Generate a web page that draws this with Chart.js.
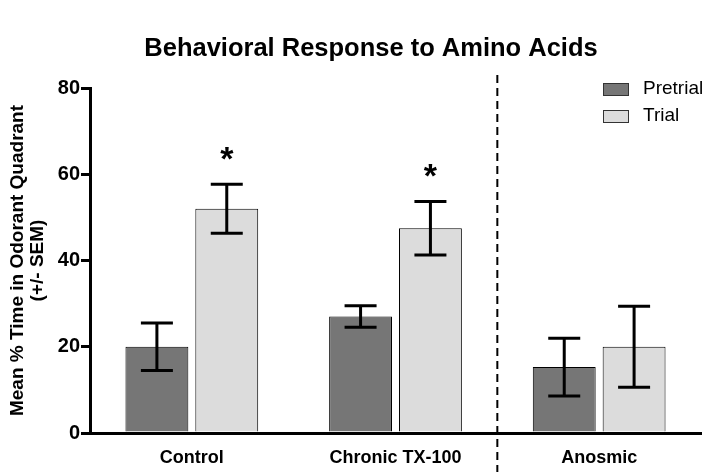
<!DOCTYPE html>
<html>
<head>
<meta charset="utf-8">
<script src="https://cdn.jsdelivr.net/npm/chart.js@4.4.1/dist/chart.umd.min.js"></script>
<style>
  html, body { margin: 0; padding: 0; background: #fff; }
  #wrap { width: 711px; height: 472px; position: relative; }
</style>
</head>
<body>
<div id="wrap"><canvas id="myChart"></canvas></div>
<script>
//------donnees
const categories = ['Control', 'Chronic TX-100', 'Anosmic'];
const pretrialMean = [20, 27, 15.3];
const pretrialSem = [5.5, 2.5, 6.7];
const trialMean = [52, 47.5, 20];
const trialSem = [5.7, 6.2, 9.4];
const trialMarks = ['*', '*', ''];
const yTicks = [0, 20, 40, 60, 80];

const FONT = '"Liberation Sans", Arial, sans-serif';
const ctx = document.getElementById('myChart');

//barres d'erreur + asterisques + ligne pointillee + legende + titre
const extras = {
  id: 'extras',
  afterDatasetsDraw(chart) {
    const c = chart.ctx;
    const y = chart.scales.y;
    const x = chart.scales.x;
    const sems = [pretrialSem, trialSem];
    c.save();
    c.strokeStyle = '#000';
    c.lineWidth = 3;
    chart.data.datasets.forEach((ds, i) => {
      chart.getDatasetMeta(i).data.forEach((bar, j) => {
        const v = ds.data[j];
        const top = y.getPixelForValue(v + sems[i][j]);
        const bot = y.getPixelForValue(v - sems[i][j]);
        c.beginPath();
        c.moveTo(bar.x, top); c.lineTo(bar.x, bot);
        c.moveTo(bar.x - 16, top); c.lineTo(bar.x + 16, top);
        c.moveTo(bar.x - 16, bot); c.lineTo(bar.x + 16, bot);
        c.stroke();
        if (i === 1 && trialMarks[j]) {
          c.fillStyle = '#000';
          c.font = 'bold 34px ' + FONT;
          c.textAlign = 'center';
          c.textBaseline = 'middle';
          c.fillText(trialMarks[j], bar.x, top - 24);
        }
      });
    });

    //separation pointillee avant Anosmic
    const xs = (x.getPixelForValue(1) + x.getPixelForValue(2)) / 2;
    c.lineWidth = 2;
    c.setLineDash([8, 5]);
    c.beginPath();
    c.moveTo(xs, chart.chartArea.top - 13);
    c.lineTo(xs, chart.height);
    c.stroke();
    c.setLineDash([]);

    //legende
    const items = [['Pretrial', '#767676'], ['Trial', '#dcdcdc']];
    c.lineWidth = 1;
    c.strokeStyle = '#333';
    c.font = '19px ' + FONT;
    c.textAlign = 'left';
    c.textBaseline = 'middle';
    items.forEach((it, k) => {
      const ly = chart.chartArea.top + 1 + k * 27;
      c.fillStyle = it[1];
      c.fillRect(603, ly - 6, 26, 13);
      c.strokeRect(603.5, ly - 5.5, 25, 12);
      c.fillStyle = '#000';
      c.fillText(it[0], 643, ly);
    });

    //titre
    c.font = 'bold 25.5px ' + FONT;
    c.textAlign = 'center';
    c.fillText('Behavioral Response to Amino Acids', 371, 49);
    c.restore();
  }
};

new Chart(ctx, {
  type: 'bar',
  data: {
    labels: categories,
    datasets: [
      {
        label: 'Pretrial',
        data: pretrialMean,
        backgroundColor: '#767676',
        borderColor: '#000',
        borderWidth: 1,
        categoryPercentage: 0.686,
        barPercentage: 0.9
      },
      {
        label: 'Trial',
        data: trialMean,
        backgroundColor: '#dcdcdc',
        borderColor: '#000',
        borderWidth: 1,
        categoryPercentage: 0.686,
        barPercentage: 0.9
      }
    ]
  },
  options: {
    responsive: true,
    maintainAspectRatio: false,
    animation: false,
    layout: { padding: { top: 88, right: 10, left: 0, bottom: 0 } },
    plugins: {
      legend: { display: false },
      title: { display: false },
      tooltip: { enabled: false }
    },
    scales: {
      x: {
        grid: { display: false },
        border: { display: true, color: '#000', width: 3 },
        ticks: { color: '#000', padding: 6, font: { family: FONT, size: 18, weight: 'bold' } },
        afterFit: (s) => { s.height = 39; }
      },
      y: {
        min: 0,
        max: 80,
        afterBuildTicks: (s) => { s.ticks = yTicks.map(v => ({ value: v })); },
        grid: { drawOnChartArea: false, drawTicks: true, tickLength: 9, lineWidth: 3, color: '#000' },
        border: { display: true, color: '#000', width: 3 },
        ticks: { color: '#000', padding: 1, font: { family: FONT, size: 20, weight: 'bold' } },
        title: {
          display: true,
          text: ['Mean % Time in Odorant Quadrant', '(+/- SEM)'],
          color: '#000',
          font: { family: FONT, size: 19, weight: 'bold', lineHeight: 1.05 },
          padding: { top: 8, bottom: 0 }
        },
        afterFit: (s) => { s.width = 90; }
      }
    }
  },
  plugins: [extras]
});
</script>
</body>
</html>
